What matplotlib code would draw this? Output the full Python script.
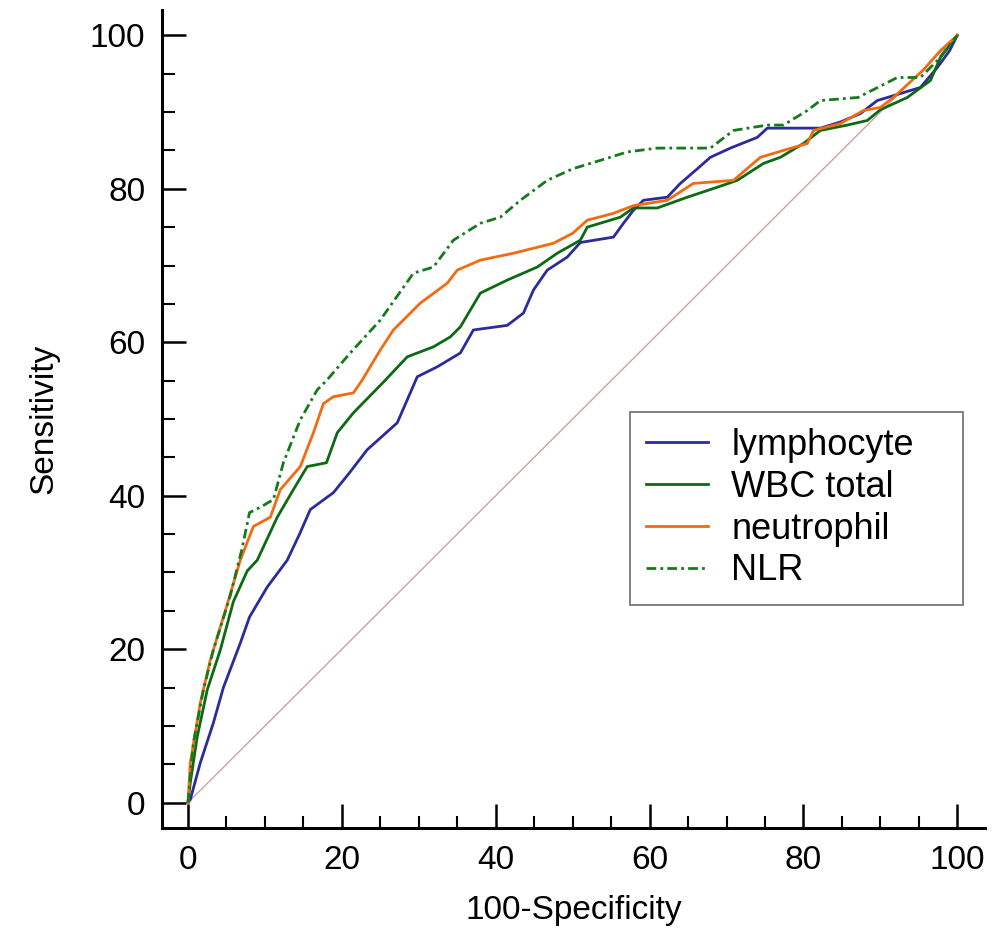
import numpy as np
import matplotlib.pyplot as plt
from matplotlib.ticker import MultipleLocator

plt.rcParams['font.family'] = ['Liberation Sans', 'DejaVu Sans']

# ROC points (100-Specificity, Sensitivity)
lym_x = [0, 0.3, 1.6, 3.3, 4.6, 6.8, 8, 10.3, 12.9, 14.5, 15.9, 18.9, 21, 23.3, 27.2, 29.8, 32.4, 35.4,
         37.1, 41.5, 43.6, 44.9, 46.7, 49.3, 51, 55.3, 56.6, 57.9, 59.2, 62.3, 64, 66.2, 67.9, 70.5,
         74, 75.3, 82.2, 84.8, 87.4, 89.6, 95.2, 97.4, 99, 100]
lym_y = [0, 0.4, 5.2, 10.4, 15, 20.8, 24.2, 28.1, 31.6, 35, 38.2, 40.4, 43, 46, 49.5, 55.5, 56.8, 58.6,
         61.6, 62.2, 63.8, 66.8, 69.4, 71.1, 73, 73.7, 75.5, 77.2, 78.5, 78.9, 80.7, 82.6, 84.1, 85.3,
         86.7, 87.9, 87.9, 88.7, 89.8, 91.5, 93.2, 95.8, 98, 100]

wbc_x = [0, 0.3, 1.2, 2.5, 4.2, 5.9, 7.7, 9, 11.6, 13.7, 15.5, 18, 19.4, 21.5, 25.4, 28.5, 31.9, 34.1,
         35.4, 38, 41.5, 45.4, 48, 51, 51.9, 56.2, 57.9, 61, 64.9, 68.8, 71.4, 74.8, 77, 80, 82.2,
         85.7, 88.3, 90, 93.5, 96.5, 97.8, 100]
wbc_y = [0, 2.6, 8.6, 14.7, 19.9, 26.2, 30.2, 31.6, 37.2, 40.8, 43.8, 44.3, 48.2, 50.8, 54.8, 58.1,
         59.4, 60.7, 62, 66.4, 68.1, 69.8, 71.6, 73.3, 75, 76.3, 77.5, 77.5, 78.9, 80.2, 81.1, 83.3,
         84.1, 85.9, 87.6, 88.3, 88.9, 90.3, 91.9, 94.1, 97.1, 100]

neu_x = [0, 0.3, 1.6, 2.9, 5, 6.8, 8.5, 10.7, 12, 14.6, 16.3, 17.6, 18.9, 21.5, 22.6, 25, 26.7, 28.9,
         30.2, 33.7, 35, 38, 42.3, 47.5, 50, 51.9, 55.3, 57.9, 62.3, 65.7, 70.9, 74.4, 77.4, 80.5,
         81.3, 84.8, 87.8, 90, 91.7, 95.6, 97.8, 100]
neu_y = [0, 5.2, 13, 18.6, 25.5, 31.6, 36, 37.2, 40.8, 43.8, 48.2, 52, 52.9, 53.4, 55, 59, 61.6, 63.8,
         65.1, 67.7, 69.4, 70.7, 71.6, 72.9, 74.2, 75.9, 76.8, 77.8, 78.5, 80.7, 81.1, 84.1, 85, 85.9,
         87.6, 88.5, 90.2, 90.6, 91.9, 95.5, 98, 100]

nlr_x = [0, 0.7, 2, 3.3, 5.5, 7, 8, 9.4, 11.1, 12.4, 14.6, 16.8, 18, 21, 25, 29.3, 31.9, 34.5, 38,
         40.6, 43.2, 46.7, 50, 53.6, 57.1, 61, 67.9, 70.9, 75.3, 77.4, 80.5, 82.2, 87.1, 92.2, 95.2,
         97.4, 100]
nlr_y = [0, 7.8, 14.7, 19.9, 27, 33, 37.8, 38.5, 39.5, 44.3, 49.9, 53.8, 55, 58.5, 62.9, 69, 69.8,
         73.3, 75.5, 76.3, 78.5, 81.1, 82.6, 83.7, 84.8, 85.3, 85.3, 87.6, 88.3, 88.3, 90.2, 91.5,
         91.9, 94.5, 94.5, 96.7, 100]

ref_x = [0, 100]
ref_y = [0, 100]

fig = plt.figure(figsize=(9.99, 9.32), dpi=100)
ax = fig.add_axes([0.162, 0.1116, 0.824, 0.8777])

ax.plot(ref_x, ref_y, color='#c9a3a3', lw=1.0)
ax.plot(lym_x, lym_y, color='#2b2b9c', lw=2.0, label='lymphocyte')
ax.plot(wbc_x, wbc_y, color='#0b6a12', lw=2.0, label='WBC total')
ax.plot(neu_x, neu_y, color='#f26a12', lw=2.0, label='neutrophil')
ax.plot(nlr_x, nlr_y, color='#157a1a', lw=2.0, ls=(0, (3.5, 1.5, 1, 1.5)), label='NLR')

ax.set_xlim(-3.4, 103.6)
ax.set_ylim(-3.3, 103.3)
for s in ['top', 'right']:
    ax.spines[s].set_visible(False)
for s in ['left', 'bottom']:
    ax.spines[s].set_linewidth(2.2)

ax.xaxis.set_major_locator(MultipleLocator(20))
ax.xaxis.set_minor_locator(MultipleLocator(5))
ax.yaxis.set_major_locator(MultipleLocator(20))
ax.yaxis.set_minor_locator(MultipleLocator(5))
ax.tick_params(which='major', direction='in', length=17, width=1.8, labelsize=24, pad=12)
ax.tick_params(which='minor', direction='in', length=9, width=1.5)

ax.set_xlabel('100-Specificity', fontsize=24, labelpad=14)
ax.set_ylabel('Sensitivity', fontsize=24, labelpad=22)

leg = ax.legend(loc='upper left', bbox_to_anchor=(0.569, 0.275, 0.404, 0.234), mode='expand',
                fontsize=26, frameon=True, fancybox=False, edgecolor='#555555',
                handlelength=1.7, handletextpad=0.65, labelspacing=0.19, borderpad=0.45,
                borderaxespad=0)
leg.get_frame().set_linewidth(1.3)

plt.savefig('out.png')
plt.close()
